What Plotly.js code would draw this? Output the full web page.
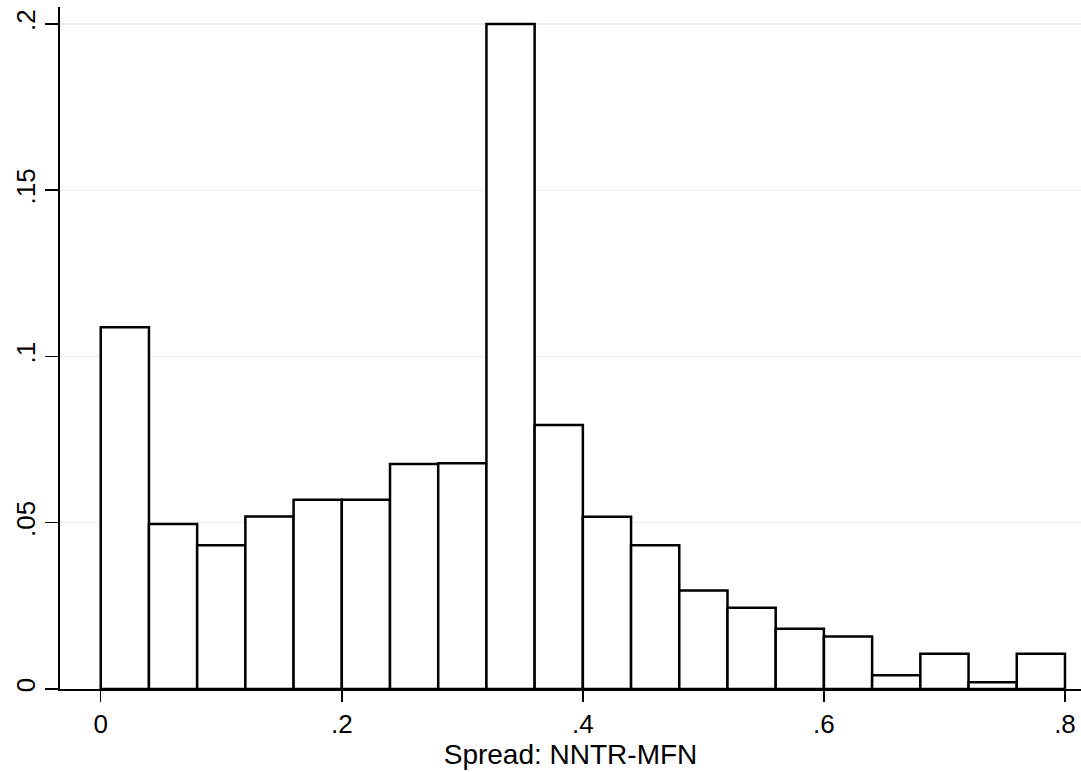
<!DOCTYPE html>
<html>
<head>
<meta charset="utf-8">
<script src="https://cdn.plot.ly/plotly-3.0.1.min.js"></script>
<style>
  html, body { margin: 0; padding: 0; background: #ffffff; }
  #chart { width: 1081px; height: 772px; }
</style>
</head>
<body>
<div id="chart"></div>
<script>
// Bin centers of the spread (bins of width 0.04 from 0 to 0.8)
const binCenters = [0.02, 0.06, 0.10, 0.14, 0.18, 0.22, 0.26, 0.30, 0.34, 0.38,
                    0.42, 0.46, 0.50, 0.54, 0.58, 0.62, 0.66, 0.70, 0.74, 0.78];
// Fraction of observations in each bin
const fractions = [0.1088, 0.0496, 0.0432, 0.0519, 0.0569, 0.0569, 0.0677, 0.0679, 0.2000, 0.0794,
                   0.0518, 0.0432, 0.0296, 0.0244, 0.0181, 0.0158, 0.0041, 0.0106, 0.0020, 0.0106];
const binWidth = 0.04;
const xTickVals = [0, 0.2, 0.4, 0.6, 0.8];
const xTickText = ["0", ".2", ".4", ".6", ".8"];
const yTickVals = [0, 0.05, 0.1, 0.15, 0.2];
const yTickText = ["0", ".05", ".1", ".15", ".2"];
const xTitle = "Spread: NNTR-MFN";

const trace = {
  type: "bar",
  x: binCenters,
  y: fractions,
  width: binCenters.map(() => binWidth),
  marker: { color: "#ffffff", line: { color: "#000000", width: 2.5 } },
  hoverinfo: "x+y"
};

const font = { family: "'Liberation Sans', Arial, sans-serif", color: "#000000" };

const layout = {
  width: 1081,
  height: 772,
  paper_bgcolor: "#ffffff",
  plot_bgcolor: "#ffffff",
  margin: { l: 60, r: 0, t: 7, b: 83 },
  showlegend: false,
  bargap: 0,
  font: font,
  xaxis: {
    range: [-0.0338, 0.8133],
    tickvals: xTickVals,
    ticktext: xTickText,
    ticks: "outside",
    ticklen: 11,
    tickwidth: 1.5,
    tickcolor: "#000000",
    showline: true,
    linecolor: "#000000",
    linewidth: 1.5,
    showgrid: false,
    zeroline: false,
    tickfont: { family: font.family, size: 26, color: "#000000" },
    title: { text: xTitle, font: { family: font.family, size: 28, color: "#000000" }, standoff: 0 }
  },
  yaxis: {
    range: [0, 0.2051],
    tickvals: yTickVals,
    ticktext: yTickText,
    tickangle: -90,
    ticks: "outside",
    ticklen: 13,
    tickwidth: 1.5,
    tickcolor: "#000000",
    showline: true,
    linecolor: "#000000",
    linewidth: 1.8,
    showgrid: true,
    gridcolor: "#e6eff2",
    gridwidth: 1.3,
    zeroline: false,
    tickfont: { family: font.family, size: 26, color: "#000000" }
  }
};

Plotly.newPlot("chart", [trace], layout, { displayModeBar: false, staticPlot: true });
</script>
</body>
</html>
